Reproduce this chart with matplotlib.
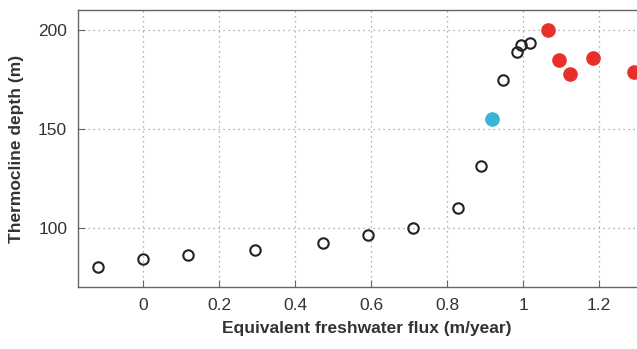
import matplotlib
matplotlib.use("Agg")
import matplotlib.pyplot as plt

plt.rcParams['font.family'] = ['Liberation Sans', 'DejaVu Sans']

# open circles
flux_open = [-0.119, 0.0, 0.119, 0.296, 0.474, 0.591, 0.711, 0.828, 0.888,
             0.947, 0.983, 0.995, 1.018]
depth_open = [80.0, 83.9, 86.2, 88.8, 92.4, 96.2, 99.9, 109.9, 131.3,
              174.8, 188.6, 192.2, 193.6]
# cyan point
flux_cyan = [0.918]
depth_cyan = [154.9]
# red points
flux_red = [1.065, 1.094, 1.124, 1.183, 1.292]
depth_red = [200.0, 184.9, 177.5, 186.0, 178.5]

fig = plt.figure(figsize=(6.37, 3.49), dpi=100)
ax = fig.add_axes([0.123, 0.178, 0.907, 0.793])

ax.plot(flux_open, depth_open, 'o', mfc='none', mec='#222222', ms=7.5, mew=1.5, clip_on=False)
ax.plot(flux_cyan, depth_cyan, 'o', color='#3bb4d6', ms=9.5, clip_on=False)
ax.plot(flux_red, depth_red, 'o', color='#e8302a', ms=9.5, clip_on=False)

ax.set_xlim(-0.17, 1.35)
ax.set_ylim(70, 210)
ax.set_xticks([0, 0.2, 0.4, 0.6, 0.8, 1, 1.2])
ax.set_xticklabels(['0', '0.2', '0.4', '0.6', '0.8', '1', '1.2'])
ax.set_yticks([100, 150, 200])

ax.grid(True, linestyle=(0, (1, 3)), color='#999999', linewidth=0.9)
for s in ax.spines.values():
    s.set_color('#666666')
    s.set_linewidth(1.0)
ax.spines['right'].set_visible(False)
ax.tick_params(direction='in', length=5, color='#666666', labelcolor='#333333',
               labelsize=12.5, pad=8, top=False, right=False)

ax.set_xlabel('Equivalent freshwater flux (m/year)', fontsize=12.5, fontweight='bold',
              color='#333333', labelpad=6)
ax.set_ylabel('Thermocline depth (m)', fontsize=12.5, fontweight='bold',
              color='#333333', labelpad=10)

fig.savefig('out.png', dpi=100)
